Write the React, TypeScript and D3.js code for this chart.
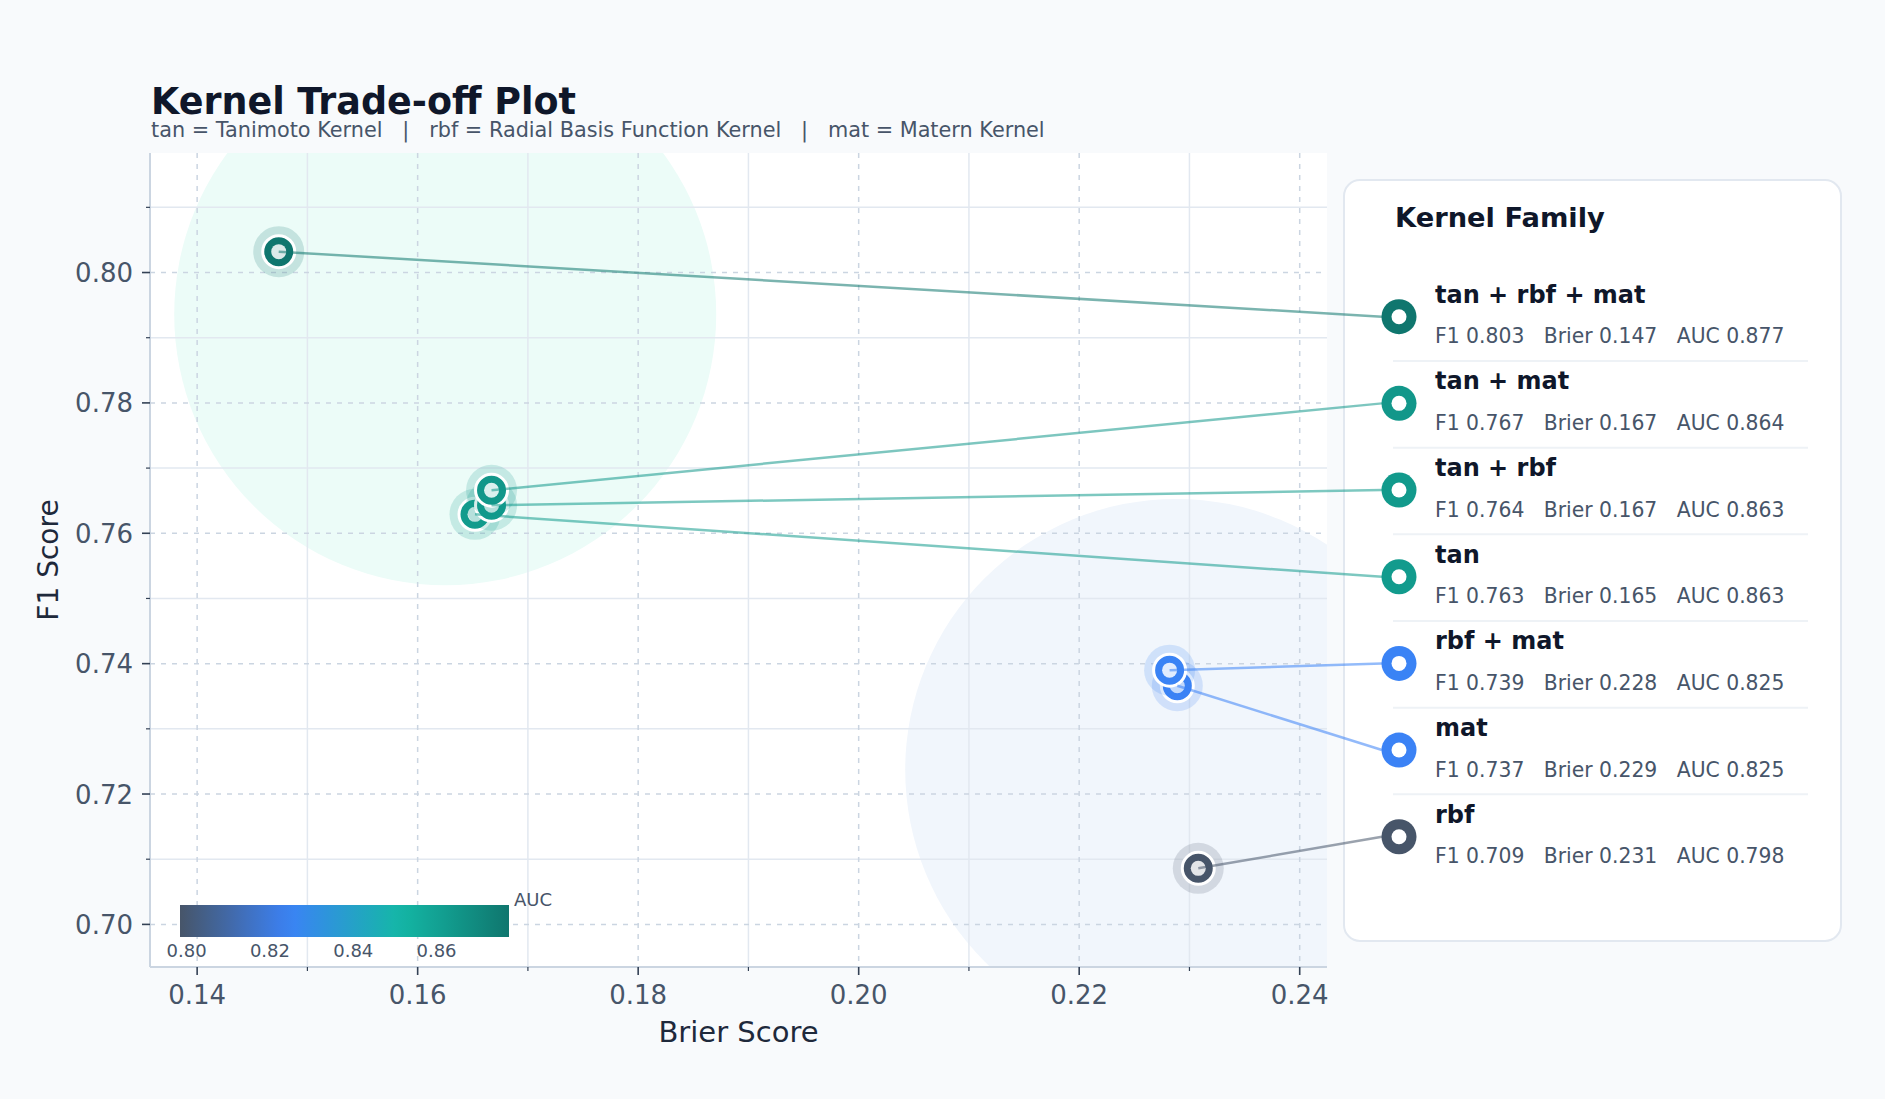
import React, { useEffect, useRef } from 'react';
import * as d3 from 'd3';

// kernel combos, sorted the way the legend lists them
const kernels = ['tan + rbf + mat', 'tan + mat', 'tan + rbf', 'tan', 'rbf + mat', 'mat', 'rbf'];
const f1Scores = [0.8032, 0.7666, 0.7643, 0.7629, 0.7390, 0.7366, 0.7086];
const brierScores = [0.1474, 0.1667, 0.1667, 0.1652, 0.2282, 0.2289, 0.2308];
const aucScores = [0.8774, 0.8642, 0.8631, 0.8628, 0.8251, 0.8249, 0.7984];

// shaded family regions (centre in data units)
const regionBrier = [0.1625, 0.2288];
const regionF1 = [0.7936, 0.7237];
const regionFill = ['#ecfcf8', '#f1f6fc'];

const xMajorTicks = [0.14, 0.16, 0.18, 0.2, 0.22, 0.24];
const xMinorTicks = [0.15, 0.17, 0.19, 0.21, 0.23];
const yMajorTicks = [0.7, 0.72, 0.74, 0.76, 0.78, 0.8];
const yMinorTicks = [0.71, 0.73, 0.75, 0.77, 0.79, 0.81];
const aucTicks = [0.8, 0.82, 0.84, 0.86];
const cmapColors = ['#475569', '#3b82f6', '#14b8a6', '#0f766e'];

const FONT = '"DejaVu Sans", Verdana, sans-serif';
const W = 1885;
const H = 1099;

const App = () => {
  const svgRef = useRef(null);

  useEffect(() => {
    const svg = d3.select(svgRef.current);
    svg.selectAll('*').remove();

    const margin = { top: 153, right: 558, bottom: 132, left: 150 };
    const plotRight = W - margin.right;
    const plotBottom = H - margin.bottom;

    const bExt = d3.extent(brierScores);
    const fExt = d3.extent(f1Scores);
    const bPad = (bExt[1] - bExt[0]) * 0.14;
    const fPad = (fExt[1] - fExt[0]) * 0.16;

    const x = d3.scaleLinear().domain([bExt[0] - bPad, bExt[1] + bPad]).range([margin.left, plotRight]);
    const y = d3.scaleLinear().domain([fExt[0] - fPad, fExt[1] + fPad]).range([plotBottom, margin.top]);

    const aExt = d3.extent(aucScores);
    const aSpan = aExt[1] - aExt[0];
    const color = d3.scaleLinear()
      .domain([aExt[0], aExt[0] + aSpan / 3, aExt[0] + (2 * aSpan) / 3, aExt[1]])
      .range(cmapColors)
      .interpolate(d3.interpolateRgb);

    // background
    svg.append('rect').attr('width', W).attr('height', H).attr('fill', '#f8fafc');

    // title
    svg.append('text')
      .attr('x', 151).attr('y', 114)
      .style('font-family', FONT).style('font-size', '36.5px').style('font-weight', 'bold')
      .attr('fill', '#0f172a')
      .text('Kernel Trade-off Plot');
    svg.append('text')
      .attr('x', 151).attr('y', 137)
      .attr('xml:space', 'preserve')
      .style('white-space', 'pre')
      .style('font-family', FONT).style('font-size', '20.8px')
      .attr('fill', '#475569')
      .text('tan = Tanimoto Kernel   |   rbf = Radial Basis Function Kernel   |   mat = Matern Kernel');

    // plot area
    svg.append('rect')
      .attr('x', margin.left).attr('y', margin.top)
      .attr('width', plotRight - margin.left).attr('height', plotBottom - margin.top)
      .attr('fill', '#ffffff');

    svg.append('clipPath').attr('id', 'plot-clip')
      .append('rect')
      .attr('x', margin.left).attr('y', margin.top)
      .attr('width', plotRight - margin.left).attr('height', plotBottom - margin.top);

    const plot = svg.append('g').attr('clip-path', 'url(#plot-clip)');

    regionBrier.forEach((b, i) => {
      plot.append('circle')
        .attr('cx', x(b)).attr('cy', y(regionF1[i])).attr('r', 271)
        .attr('fill', regionFill[i]);
    });

    // minor grid (solid)
    xMinorTicks.forEach(t => {
      plot.append('line')
        .attr('x1', x(t)).attr('x2', x(t)).attr('y1', margin.top).attr('y2', plotBottom)
        .attr('stroke', '#e2e8f0').attr('stroke-width', 1.5);
    });
    yMinorTicks.forEach(t => {
      plot.append('line')
        .attr('x1', margin.left).attr('x2', plotRight).attr('y1', y(t)).attr('y2', y(t))
        .attr('stroke', '#e2e8f0').attr('stroke-width', 1.5);
    });
    // major grid (dashed)
    xMajorTicks.forEach(t => {
      plot.append('line')
        .attr('x1', x(t)).attr('x2', x(t)).attr('y1', margin.top).attr('y2', plotBottom)
        .attr('stroke', '#cbd5e1').attr('stroke-width', 1.5).attr('stroke-dasharray', '5,6');
    });
    yMajorTicks.forEach(t => {
      plot.append('line')
        .attr('x1', margin.left).attr('x2', plotRight).attr('y1', y(t)).attr('y2', y(t))
        .attr('stroke', '#cbd5e1').attr('stroke-width', 1.5).attr('stroke-dasharray', '5,6');
    });

    // spines
    svg.append('line')
      .attr('x1', margin.left).attr('x2', margin.left).attr('y1', margin.top).attr('y2', plotBottom)
      .attr('stroke', '#cbd5e1').attr('stroke-width', 2);
    svg.append('line')
      .attr('x1', margin.left).attr('x2', plotRight).attr('y1', plotBottom).attr('y2', plotBottom)
      .attr('stroke', '#cbd5e1').attr('stroke-width', 2);

    // ticks + labels
    xMajorTicks.forEach(t => {
      svg.append('line')
        .attr('x1', x(t)).attr('x2', x(t)).attr('y1', plotBottom).attr('y2', plotBottom + 8)
        .attr('stroke', '#334155').attr('stroke-width', 1.6);
      svg.append('text')
        .attr('x', x(t)).attr('y', plotBottom + 37)
        .attr('text-anchor', 'middle')
        .style('font-family', FONT).style('font-size', '26px')
        .attr('fill', '#475569')
        .text(d3.format('.2f')(t));
    });
    xMinorTicks.forEach(t => {
      svg.append('line')
        .attr('x1', x(t)).attr('x2', x(t)).attr('y1', plotBottom).attr('y2', plotBottom + 4)
        .attr('stroke', '#334155').attr('stroke-width', 1.2);
    });
    yMajorTicks.forEach(t => {
      svg.append('line')
        .attr('x1', margin.left - 8).attr('x2', margin.left).attr('y1', y(t)).attr('y2', y(t))
        .attr('stroke', '#334155').attr('stroke-width', 1.6);
      svg.append('text')
        .attr('x', margin.left - 17).attr('y', y(t) + 9.5)
        .attr('text-anchor', 'end')
        .style('font-family', FONT).style('font-size', '26px')
        .attr('fill', '#475569')
        .text(d3.format('.2f')(t));
    });
    yMinorTicks.forEach(t => {
      svg.append('line')
        .attr('x1', margin.left - 4).attr('x2', margin.left).attr('y1', y(t)).attr('y2', y(t))
        .attr('stroke', '#334155').attr('stroke-width', 1.2);
    });

    // axis titles
    svg.append('text')
      .attr('x', (margin.left + plotRight) / 2).attr('y', 1042)
      .attr('text-anchor', 'middle')
      .style('font-family', FONT).style('font-size', '29px')
      .attr('fill', '#1e293b')
      .text('Brier Score');
    svg.append('text')
      .attr('transform', `translate(58,${(margin.top + plotBottom) / 2}) rotate(-90)`)
      .attr('text-anchor', 'middle')
      .style('font-family', FONT).style('font-size', '28px')
      .attr('fill', '#1e293b')
      .text('F1 Score');

    // colorbar inset
    const grad = svg.append('defs').append('linearGradient').attr('id', 'auc-grad');
    d3.range(0, 1.0001, 0.05).forEach(t => {
      grad.append('stop')
        .attr('offset', `${t * 100}%`)
        .attr('stop-color', color(aExt[0] + t * aSpan));
    });
    const cb = d3.scaleLinear().domain(aExt).range([180, 509]);
    svg.append('rect')
      .attr('x', cb.range()[0]).attr('y', 905)
      .attr('width', cb.range()[1] - cb.range()[0]).attr('height', 32)
      .attr('fill', 'url(#auc-grad)');
    aucTicks.forEach(t => {
      svg.append('text')
        .attr('x', cb(t)).attr('y', 957)
        .attr('text-anchor', 'middle')
        .style('font-family', FONT).style('font-size', '18px')
        .attr('fill', '#475569')
        .text(d3.format('.2f')(t));
    });
    svg.append('text')
      .attr('x', 514).attr('y', 906)
      .style('font-family', FONT).style('font-size', '18px')
      .attr('fill', '#475569')
      .text('AUC');

    // legend box
    const lg = { x: 1344, y: 180, w: 497, h: 761 };
    svg.append('rect')
      .attr('x', lg.x).attr('y', lg.y).attr('width', lg.w).attr('height', lg.h)
      .attr('rx', 16)
      .attr('fill', '#ffffff').attr('stroke', '#e2e8f0').attr('stroke-width', 2);
    svg.append('text')
      .attr('x', 1395).attr('y', 227)
      .style('font-family', FONT).style('font-size', '27.3px').style('font-weight', 'bold')
      .attr('fill', '#0f172a')
      .text('Kernel Family');

    const rowY = i => 316.7 + i * 86.67;
    const markerX = 1399;

    kernels.forEach((k, i) => {
      const cy = rowY(i);
      const c = color(aucScores[i]);
      svg.append('circle').attr('cx', markerX).attr('cy', cy).attr('r', 17.5).attr('fill', c);
      svg.append('circle').attr('cx', markerX).attr('cy', cy).attr('r', 7.5).attr('fill', '#ffffff');
      svg.append('text')
        .attr('x', 1435).attr('y', cy - 14)
        .style('font-family', FONT).style('font-size', '24px').style('font-weight', 'bold')
        .attr('fill', '#0f172a')
        .text(k);
      svg.append('text')
        .attr('x', 1435).attr('y', cy + 26.7)
        .attr('xml:space', 'preserve')
        .style('white-space', 'pre')
        .style('font-family', FONT).style('font-size', '20.35px')
        .attr('fill', '#475569')
        .text(`F1 ${d3.format('.3f')(f1Scores[i])}   Brier ${d3.format('.3f')(brierScores[i])}   AUC ${d3.format('.3f')(aucScores[i])}`);
      if (i < kernels.length - 1) {
        svg.append('line')
          .attr('x1', 1393).attr('x2', 1808).attr('y1', cy + 44.3).attr('y2', cy + 44.3)
          .attr('stroke', '#eef2f6').attr('stroke-width', 2);
      }
    });

    // points, drawn low F1 first so better ones sit on top
    const order = d3.range(kernels.length).sort((a, b) => f1Scores[a] - f1Scores[b]);
    const pts = svg.append('g');
    order.forEach(i => {
      const px = x(brierScores[i]);
      const py = y(f1Scores[i]);
      const c = color(aucScores[i]);
      pts.append('circle').attr('cx', px).attr('cy', py).attr('r', 25.5)
        .attr('fill', c).attr('fill-opacity', 0.18);
      pts.append('circle').attr('cx', px).attr('cy', py).attr('r', 16)
        .attr('fill', c).attr('stroke', '#ffffff').attr('stroke-width', 3);
      pts.append('circle').attr('cx', px).attr('cy', py).attr('r', 7.5)
        .attr('fill', '#ffffff').attr('fill-opacity', 0.85);
    });

    // connectors to legend rows
    kernels.forEach((k, i) => {
      svg.append('line')
        .attr('x1', x(brierScores[i])).attr('y1', y(f1Scores[i]))
        .attr('x2', markerX - 17).attr('y2', rowY(i))
        .attr('stroke', color(aucScores[i]))
        .attr('stroke-opacity', 0.55)
        .attr('stroke-width', 2.5);
    });
  }, []);

  return (
    <div style={{ position: 'absolute', left: 0, top: 0, width: W, height: H }}>
      <svg ref={svgRef} width={W} height={H} style={{ display: 'block' }}></svg>
    </div>
  );
};

export default App;
